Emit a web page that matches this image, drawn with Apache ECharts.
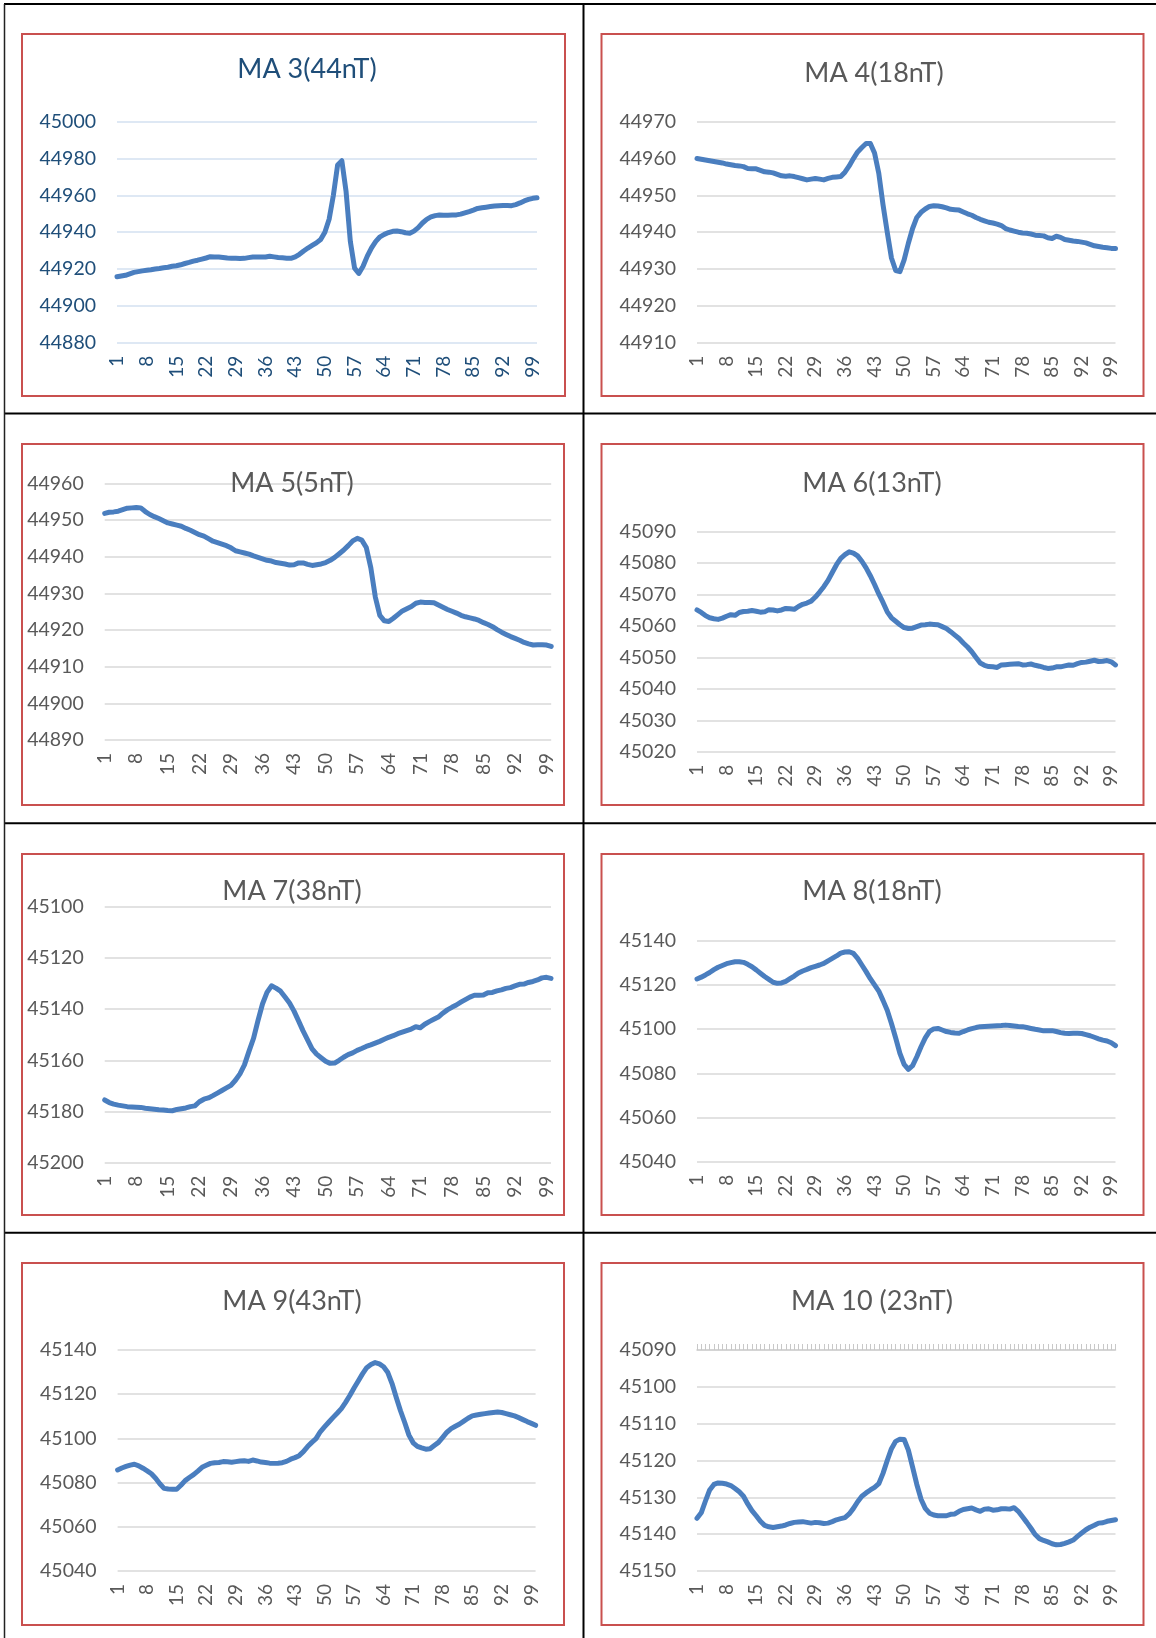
<!DOCTYPE html>
<html><head><meta charset="utf-8">
<script src="https://cdn.jsdelivr.net/npm/echarts@6/dist/echarts.min.js"></script>
<style>html,body{margin:0;padding:0;background:#fff}#c{width:1156px;height:1638px}</style>
</head><body><div id="c"></div>
<script>
const categories = [1,2,3,4,5,6,7,8,9,10,11,12,13,14,15,16,17,18,19,20,21,22,23,24,25,26,27,28,29,30,31,32,33,34,35,36,37,38,39,40,41,42,43,44,45,46,47,48,49,50,51,52,53,54,55,56,57,58,59,60,61,62,63,64,65,66,67,68,69,70,71,72,73,74,75,76,77,78,79,80,81,82,83,84,85,86,87,88,89,90,91,92,93,94,95,96,97,98,99,100];

const titles = ['MA 3(44nT)','MA 4(18nT)','MA 5(5nT)','MA 6(13nT)','MA 7(38nT)','MA 8(18nT)','MA 9(43nT)','MA 10 (23nT)'];

// y-axis ranges [min, max, step]
const yMin = [44880, 44910, 44890, 45020, 45100, 45040, 45040, 45090];
const yMax = [45000, 44970, 44960, 45090, 45200, 45140, 45140, 45150];
const yStep = [20, 10, 10, 10, 20, 20, 20, 10];
const yInverse = [false, false, false, false, true, false, false, true];

const ma3 = [44915.8,44916.2,44916.6,44917.4,44918.2,44918.6,44919.0,44919.3,44919.6,44920.0,
44920.3,44920.7,44921.0,44921.5,44921.8,44922.3,44923.0,44923.6,44924.3,44924.8,
44925.4,44926.0,44926.7,44926.6,44926.5,44926.3,44926.0,44925.8,44925.8,44925.7,
44925.8,44926.2,44926.5,44926.6,44926.6,44926.5,44926.9,44926.6,44926.3,44926.1,
44925.9,44925.8,44926.6,44928.0,44929.8,44931.4,44932.8,44934.2,44936.0,44940.0,
44947.0,44960.0,44976.5,44978.8,44962.0,44935.0,44920.5,44917.6,44921.5,44927.0,
44931.5,44935.0,44937.5,44938.8,44939.8,44940.5,44940.6,44940.3,44939.7,44939.4,
44940.6,44942.5,44945.0,44947.0,44948.3,44949.0,44949.3,44949.2,44949.2,44949.3,
44949.4,44949.8,44950.5,44951.2,44952.0,44952.9,44953.3,44953.6,44953.9,44954.2,
44954.4,44954.5,44954.5,44954.4,44955.0,44955.9,44957.0,44957.8,44958.4,44958.7];

const ma4 = [44960.0,44959.8,44959.6,44959.4,44959.2,44959.0,44958.8,44958.5,44958.3,44958.1,
44958.0,44957.8,44957.3,44957.2,44957.2,44956.8,44956.4,44956.3,44956.1,44955.7,
44955.3,44955.2,44955.3,44955.1,44954.8,44954.5,44954.2,44954.4,44954.6,44954.4,
44954.2,44954.6,44954.9,44955.0,44955.1,44956.3,44958.0,44960.0,44961.8,44963.0,
44964.1,44964.1,44961.5,44956.0,44947.5,44940.0,44933.0,44929.6,44929.3,44932.5,
44937.0,44941.0,44944.0,44945.4,44946.3,44947.0,44947.2,44947.1,44946.9,44946.6,
44946.2,44946.1,44946.0,44945.5,44945.0,44944.6,44944.0,44943.5,44943.1,44942.7,
44942.5,44942.2,44941.8,44941.0,44940.6,44940.3,44940.0,44939.8,44939.7,44939.5,
44939.2,44939.1,44939.0,44938.5,44938.3,44938.9,44938.6,44938.0,44937.8,44937.6,
44937.5,44937.3,44937.1,44936.7,44936.3,44936.1,44935.9,44935.8,44935.6,44935.6];

const ma5 = [44951.8,44952.1,44952.2,44952.4,44952.8,44953.2,44953.3,44953.4,44953.3,44952.3,
44951.5,44950.9,44950.4,44949.8,44949.2,44948.9,44948.6,44948.3,44947.7,44947.2,
44946.6,44946.0,44945.6,44944.9,44944.2,44943.8,44943.4,44943.0,44942.4,44941.6,
44941.3,44941.0,44940.7,44940.2,44939.8,44939.4,44939.0,44938.8,44938.4,44938.2,
44938.0,44937.7,44937.8,44938.3,44938.3,44937.9,44937.6,44937.8,44938.0,44938.4,
44939.0,44939.8,44940.8,44941.8,44943.0,44944.3,44945.0,44944.5,44942.5,44937.0,
44929.0,44924.0,44922.5,44922.3,44923.2,44924.2,44925.2,44925.8,44926.4,44927.3,
44927.6,44927.5,44927.5,44927.4,44926.8,44926.2,44925.6,44925.1,44924.6,44924.0,
44923.6,44923.3,44923.0,44922.6,44922.0,44921.5,44920.9,44920.1,44919.4,44918.8,
44918.2,44917.7,44917.2,44916.6,44916.2,44915.9,44916.0,44916.0,44915.9,44915.5];

const ma6 = [45065.1,45064.3,45063.3,45062.6,45062.3,45062.1,45062.5,45063.1,45063.6,45063.4,
45064.3,45064.6,45064.7,45064.9,45064.7,45064.4,45064.5,45065.2,45065.1,45064.8,
45065.1,45065.6,45065.5,45065.3,45066.2,45066.9,45067.3,45067.9,45069.2,45070.8,
45072.5,45074.5,45077.0,45079.5,45081.5,45082.7,45083.6,45083.2,45082.3,45080.6,
45078.5,45076.0,45073.2,45070.2,45067.5,45064.5,45062.6,45061.5,45060.4,45059.5,
45059.2,45059.3,45059.8,45060.3,45060.4,45060.6,45060.5,45060.4,45059.8,45059.2,
45058.2,45057.1,45056.0,45054.6,45053.3,45051.8,45050.0,45048.2,45047.5,45047.1,
45047.0,45046.8,45047.6,45047.7,45047.8,45047.9,45048.0,45047.6,45047.7,45047.9,
45047.5,45047.2,45046.8,45046.5,45046.6,45047.0,45047.0,45047.3,45047.6,45047.5,
45048.0,45048.4,45048.5,45048.8,45049.1,45048.7,45048.8,45049.0,45048.6,45047.6];

const ma7 = [45175.5,45176.5,45177.1,45177.5,45177.8,45178.1,45178.2,45178.3,45178.4,45178.7,
45178.9,45179.1,45179.3,45179.4,45179.6,45179.7,45179.2,45178.9,45178.6,45178.1,
45177.8,45176.2,45175.2,45174.7,45173.8,45172.8,45171.8,45170.8,45169.8,45167.8,
45165.3,45161.8,45156.5,45151.5,45144.5,45138.0,45133.5,45130.9,45131.8,45133.0,
45135.3,45137.6,45140.8,45144.6,45148.5,45152.0,45155.5,45157.6,45159.0,45160.4,
45161.2,45161.1,45160.0,45158.8,45157.8,45157.1,45156.1,45155.4,45154.6,45154.0,
45153.3,45152.6,45151.8,45151.0,45150.4,45149.6,45149.0,45148.4,45147.8,45146.9,
45147.3,45145.9,45144.9,45144.0,45143.1,45141.6,45140.3,45139.3,45138.4,45137.3,
45136.3,45135.3,45134.6,45134.6,45134.5,45133.6,45133.5,45132.9,45132.5,45131.9,
45131.6,45130.9,45130.3,45130.2,45129.6,45129.2,45128.6,45127.8,45127.6,45128.0];

const ma8 = [45122.7,45123.5,45124.5,45125.6,45126.9,45128.0,45128.8,45129.6,45130.1,45130.5,
45130.5,45130.2,45129.3,45128.2,45126.8,45125.3,45123.8,45122.5,45121.2,45120.7,
45120.9,45121.6,45122.8,45124.0,45125.4,45126.3,45127.0,45127.8,45128.4,45129.0,
45129.7,45130.9,45132.0,45133.1,45134.4,45134.9,45135.0,45134.3,45132.0,45129.0,
45126.0,45122.8,45120.0,45117.2,45113.0,45108.5,45102.5,45096.0,45089.0,45084.0,
45081.8,45083.5,45087.5,45092.0,45096.0,45099.0,45100.1,45100.3,45099.6,45098.9,
45098.5,45098.2,45098.1,45098.9,45099.6,45100.2,45100.7,45101.1,45101.2,45101.3,
45101.4,45101.5,45101.6,45101.8,45101.6,45101.4,45101.2,45101.1,45100.7,45100.3,
45099.9,45099.6,45099.2,45099.2,45099.3,45098.9,45098.4,45098.1,45098.0,45098.1,
45098.1,45098.0,45097.5,45097.0,45096.3,45095.6,45095.0,45094.6,45093.8,45092.5];

const ma9 = [45085.7,45086.6,45087.3,45087.9,45088.3,45087.6,45086.5,45085.3,45084.0,45082.0,
45079.5,45077.4,45077.1,45077.0,45077.0,45078.8,45080.9,45082.3,45083.6,45085.2,
45086.9,45087.8,45088.7,45089.0,45089.1,45089.5,45089.4,45089.2,45089.5,45089.8,
45089.9,45089.6,45090.2,45089.8,45089.3,45089.1,45088.8,45088.7,45088.8,45089.0,
45089.6,45090.6,45091.3,45092.2,45094.0,45096.3,45098.2,45099.9,45103.0,45105.2,
45107.3,45109.4,45111.4,45113.5,45116.3,45119.4,45122.8,45126.0,45129.2,45132.0,
45133.4,45134.3,45133.7,45132.4,45129.8,45124.8,45118.5,45112.5,45107.2,45101.5,
45098.0,45096.4,45095.7,45095.1,45095.3,45096.8,45098.2,45100.5,45102.8,45104.4,
45105.5,45106.5,45107.8,45109.1,45110.2,45110.6,45110.9,45111.2,45111.5,45111.7,
45111.9,45111.7,45111.2,45110.7,45110.2,45109.4,45108.5,45107.6,45106.8,45105.9];

const ma10 = [45135.7,45134.2,45131.0,45128.0,45126.5,45126.1,45126.2,45126.4,45126.8,45127.6,
45128.5,45129.7,45131.8,45133.6,45135.0,45136.5,45137.6,45138.0,45138.2,45138.0,
45137.8,45137.5,45137.1,45136.8,45136.7,45136.6,45136.8,45137.0,45136.8,45136.9,
45137.1,45137.0,45136.6,45136.1,45135.8,45135.5,45134.5,45133.0,45131.2,45129.7,
45128.8,45128.0,45127.3,45126.3,45123.5,45120.0,45116.8,45114.8,45114.2,45114.3,
45117.2,45121.8,45126.5,45130.5,45133.0,45134.3,45134.8,45135.0,45135.0,45135.0,
45134.6,45134.5,45133.8,45133.3,45133.1,45132.9,45133.4,45133.8,45133.2,45133.1,
45133.5,45133.4,45133.1,45133.1,45133.2,45132.8,45133.8,45135.3,45136.8,45138.4,
45140.1,45141.2,45141.7,45142.1,45142.6,45142.9,45142.8,45142.5,45142.1,45141.6,
45140.6,45139.7,45138.8,45138.1,45137.6,45137.0,45136.9,45136.5,45136.3,45136.1];

const seriesData = [ma3, ma4, ma5, ma6, ma7, ma8, ma9, ma10];

// layout (page pixels)
const panels = [
  {grid:{left:117, top:121.7, width:420, height:221}, tx:307, ty:69, box:[22,34,565,396], navy:true},
  {grid:{left:697, top:121.7, width:418.5, height:221}, tx:874, ty:73, box:[601.5,34,1143.5,396]},
  {grid:{left:104.7, top:483.3, width:446.5, height:256.7}, tx:292, ty:483, box:[22,444,564,805]},
  {grid:{left:697, top:531.7, width:418.5, height:220}, tx:872, ty:483, box:[601.5,444,1143.5,805]},
  {grid:{left:104.7, top:906.7, width:446.3, height:256}, tx:292, ty:891.7, box:[22,854,564,1215]},
  {grid:{left:697, top:940.7, width:418.5, height:221}, tx:872, ty:891.7, box:[601.5,854,1143.5,1215]},
  {grid:{left:117.6, top:1350, width:418, height:221}, tx:292, ty:1301.7, box:[22,1263,564,1625]},
  {grid:{left:697, top:1350, width:418.5, height:221}, tx:872, ty:1301.7, box:[601.5,1263,1143.5,1625], topTicks:true}
];

const FONT = 'Lato, "Noto Sans", sans-serif';
const LINE = '#4A7EBF';

const option = {
  animation:false,
  backgroundColor:'#ffffff',
  title:[], grid:[], xAxis:[], yAxis:[], series:[], graphic:[]
};

// table lines
const tbl = [];
[4, 413.5, 823.2, 1232.8].forEach(y => tbl.push({type:'line', shape:{x1:4, y1:y, x2:1156, y2:y}, style:{stroke:'#000', lineWidth:2}, silent:true}));
tbl.push({type:'line', shape:{x1:4.5, y1:4, x2:4.5, y2:1638}, style:{stroke:'#222', lineWidth:1.5}, silent:true});
tbl.push({type:'line', shape:{x1:583.5, y1:4, x2:583.5, y2:1638}, style:{stroke:'#000', lineWidth:2}, silent:true});

panels.forEach((p, i) => {
  const labelColor = p.navy ? '#1F4E79' : '#595959';
  const gridColor = p.navy ? '#D3E0F0' : '#D9D9D9';
  option.title.push({
    text: titles[i], left: p.tx, top: p.ty, textAlign:'center', textVerticalAlign:'middle', padding:0,
    textStyle:{fontFamily:FONT, fontSize:27, fontWeight:'normal', color: labelColor}
  });
  option.grid.push(Object.assign({containLabel:false}, p.grid));
  option.xAxis.push({
    type:'category', gridIndex:i, data:categories, boundaryGap:false,
    axisLine:{show:false, onZero:false}, axisTick:{show:false},
    axisLabel:{rotate:90, interval:6, margin:13, fontFamily:FONT, fontSize:19, color:labelColor},
    splitLine:{show:false}
  });
  option.yAxis.push({
    type:'value', gridIndex:i, min:yMin[i], max:yMax[i], interval:yStep[i], inverse:yInverse[i],
    axisLine:{show:false}, axisTick:{show:false},
    axisLabel:{margin:21, fontFamily:FONT, fontSize:19.5, color:labelColor, formatter: v => String(v)},
    splitLine:{show:true, lineStyle:{color:gridColor, width:1.6}}
  });
  option.series.push({
    type:'line', xAxisIndex:i, yAxisIndex:i, data:seriesData[i], showSymbol:false, symbol:'none',
    lineStyle:{color:LINE, width:5, cap:'round', join:'round'}, smooth:false
  });
  const b = p.box;
  tbl.push({type:'rect', shape:{x:b[0], y:b[1], width:b[2]-b[0], height:b[3]-b[1]}, style:{fill:'none', stroke:'#C9504F', lineWidth:2}, silent:true});
});

// MA 10: horizontal axis crossing at the top (inverted value axis) with category tick marks
option.xAxis.push({
  type:'category', gridIndex:7, data:categories, boundaryGap:false, position:'top',
  axisLine:{show:true, onZero:false, lineStyle:{color:'#D0D0D0', width:1.6}},
  axisTick:{show:true, interval:0, length:6, inside:false, lineStyle:{color:'#C8C8C8', width:1}},
  axisLabel:{show:false}, splitLine:{show:false}
});

option.graphic = tbl;

const chart = echarts.init(document.getElementById('c'), null, {renderer:'canvas', width:1156, height:1638});
chart.setOption(option);
</script></body></html>
